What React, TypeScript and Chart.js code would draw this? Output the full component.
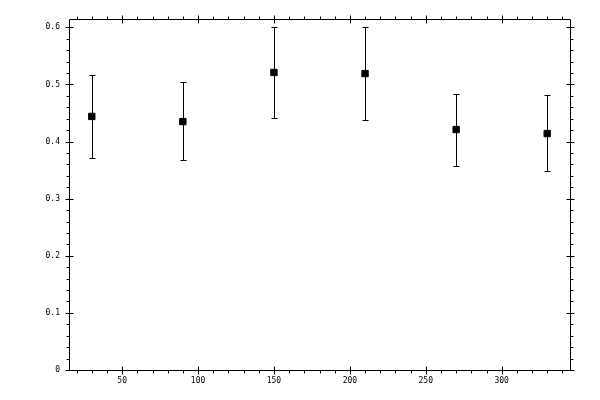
import { useEffect, useRef } from 'react'
import { Chart, registerables } from 'chart.js'

Chart.register(...registerables)

const xValues = [30, 90, 150, 210, 270, 330]
const yValues = [0.444, 0.435, 0.521, 0.519, 0.421, 0.414]
const yUpper = [0.516, 0.505, 0.6, 0.6, 0.4835, 0.481]
const yLower = [0.372, 0.367, 0.442, 0.437, 0.358, 0.349]

const xMajorTicks = [50, 100, 150, 200, 250, 300]
const xMinorTicks = [20, 30, 40, 60, 70, 80, 90, 110, 120, 130, 140, 160, 170, 180, 190, 210, 220, 230, 240, 260, 270, 280, 290, 310, 320, 330, 340]
const yMajorTicks = [0, 0.1, 0.2, 0.3, 0.4, 0.5, 0.6]
const yMinorTicks = [0.02, 0.04, 0.06, 0.08, 0.12, 0.14, 0.16, 0.18, 0.22, 0.24, 0.26, 0.28, 0.32, 0.34, 0.36, 0.38, 0.42, 0.44, 0.46, 0.48, 0.52, 0.54, 0.56, 0.58]

const INK = '#000000'
const FONT = { family: "'DejaVu Sans Mono', monospace", size: 8 }

// error bars drawn from the y scale
const errorBars = {
  id: 'errorBars',
  afterDatasetsDraw(chart: any) {
    const { ctx, scales: { x, y } } = chart
    ctx.save()
    ctx.strokeStyle = INK
    ctx.lineWidth = 1
    xValues.forEach((v, i) => {
      const px = Math.round(x.getPixelForValue(v)) + 0.5
      const top = Math.round(y.getPixelForValue(yUpper[i])) + 0.5
      const bot = Math.round(y.getPixelForValue(yLower[i])) + 0.5
      ctx.beginPath()
      ctx.moveTo(px, top); ctx.lineTo(px, bot)
      ctx.moveTo(px - 3, top); ctx.lineTo(px + 3, top)
      ctx.moveTo(px - 3, bot); ctx.lineTo(px + 3, bot)
      ctx.stroke()
    })
    ctx.restore()
  },
}

// box frame with ticks on all four sides
const frame = {
  id: 'frame',
  afterDraw(chart: any) {
    const { ctx, chartArea, scales: { x, y } } = chart
    const l = Math.round(chartArea.left) + 0.5
    const r = Math.round(chartArea.right) + 0.5
    const t = Math.round(chartArea.top) + 0.5
    const b = Math.round(chartArea.bottom) + 0.5
    ctx.save()
    ctx.strokeStyle = INK
    ctx.lineWidth = 1
    ctx.beginPath()
    ctx.rect(l, t, r - l, b - t)
    xMajorTicks.forEach(v => {
      const px = Math.round(x.getPixelForValue(v)) + 0.5
      ctx.moveTo(px, b - 4); ctx.lineTo(px, b + 4)
      ctx.moveTo(px, t - 4); ctx.lineTo(px, t + 4)
    })
    xMinorTicks.forEach(v => {
      const px = Math.round(x.getPixelForValue(v)) + 0.5
      ctx.moveTo(px, b); ctx.lineTo(px, b + 3)
      ctx.moveTo(px, t); ctx.lineTo(px, t - 3)
    })
    yMajorTicks.forEach(v => {
      const py = Math.round(y.getPixelForValue(v)) + 0.5
      ctx.moveTo(l - 4, py); ctx.lineTo(l + 4, py)
      ctx.moveTo(r - 4, py); ctx.lineTo(r + 4, py)
    })
    yMinorTicks.forEach(v => {
      const py = Math.round(y.getPixelForValue(v)) + 0.5
      ctx.moveTo(l, py); ctx.lineTo(l - 3, py)
      ctx.moveTo(r, py); ctx.lineTo(r + 3, py)
    })
    ctx.stroke()
    ctx.restore()
  },
}

export default function App() {
  const canvasRef = useRef<HTMLCanvasElement>(null)
  const chartRef = useRef<Chart | null>(null)

  useEffect(() => {
    document.body.style.margin = '0'
    if (!canvasRef.current) return
    if (chartRef.current) { chartRef.current.destroy(); chartRef.current = null }

    chartRef.current = new Chart(canvasRef.current, {
      type: 'scatter',
      data: {
        datasets: [{
          data: xValues.map((v, i) => ({ x: v, y: yValues[i] })),
          pointStyle: 'rect',
          pointRadius: 4.5,
          pointBorderWidth: 1,
          backgroundColor: INK,
          borderColor: INK,
        }],
      },
      options: {
        animation: false,
        responsive: false,
        layout: { padding: { top: 19, right: 30, left: 0, bottom: 0 } },
        plugins: { legend: { display: false }, tooltip: { enabled: false } },
        scales: {
          x: {
            type: 'linear',
            min: 15, max: 345,
            grid: { display: false, drawTicks: false },
            border: { display: false },
            afterBuildTicks: (s: any) => { s.ticks = xMajorTicks.map(v => ({ value: v })) },
            afterFit: (s: any) => { s.height = 30 },
            ticks: { font: FONT, color: INK, padding: 6, maxRotation: 0 },
          },
          y: {
            type: 'linear',
            min: 0, max: 0.6146,
            grid: { display: false, drawTicks: false },
            border: { display: false },
            afterBuildTicks: (s: any) => { s.ticks = yMajorTicks.map(v => ({ value: v })) },
            afterFit: (s: any) => { s.width = 69 },
            ticks: {
              font: FONT, color: INK, padding: 9,
              callback: (v: any) => String(Math.round(Number(v) * 10) / 10),
            },
          },
        },
      },
      plugins: [errorBars, frame],
    })

    return () => { chartRef.current?.destroy(); chartRef.current = null }
  }, [])

  return (
    <div style={{ width: 600, height: 400, background: '#fff' }}>
      <canvas ref={canvasRef} width={600} height={400} style={{ width: 600, height: 400 }} />
    </div>
  )
}
